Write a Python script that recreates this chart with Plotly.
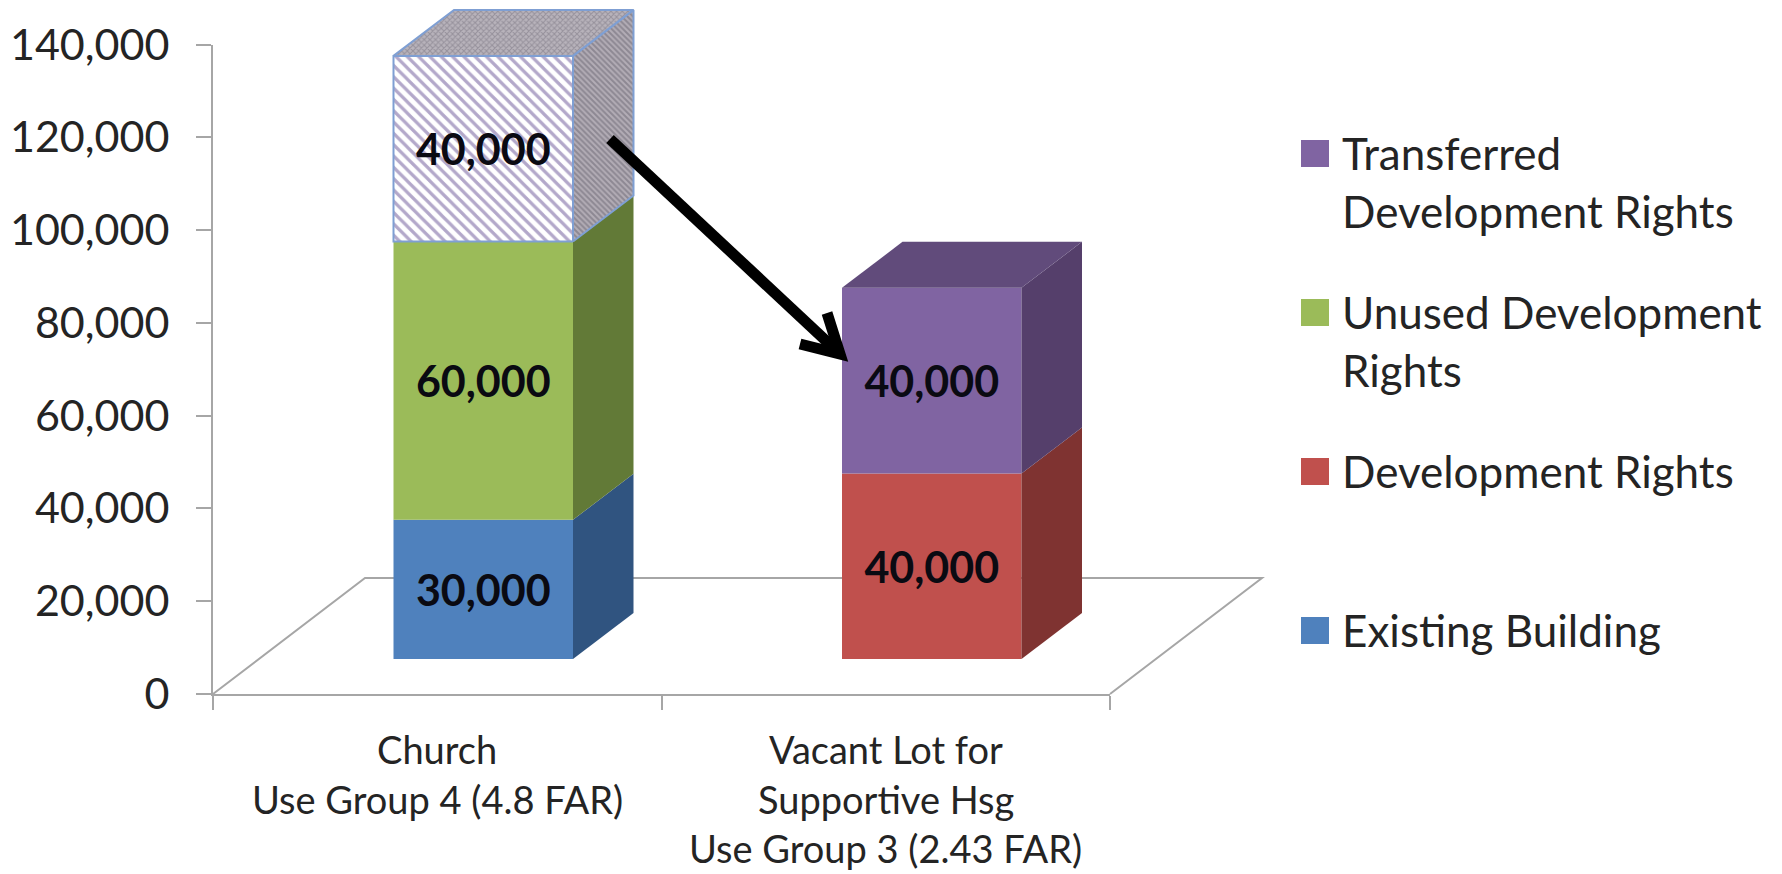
import plotly.graph_objects as go

# Chart values
categories = ["Church", "Vacant Lot"]
category_lines = [["Church", "Use Group 4 (4.8 FAR)"],
                  ["Vacant Lot for", "Supportive Hsg", "Use Group 3 (2.43 FAR)"]]
existing_building = [30000, None]
development_rights = [None, 40000]
unused_rights = [60000, None]
transferred_rights = [40000, 40000]
y_ticks = [0, 20000, 40000, 60000, 80000, 100000, 120000, 140000]

W, H = 1782, 874
X0_PX, X1_PX, Y0_PX, Y1_PX = 213.0, 1110.0, 694.0, 44.5
UNIT_X = (X1_PX - X0_PX) / 2
UNIT_Y = (Y0_PX - Y1_PX) / 140000


def px(x, y):
    """Canvas pixel to paper fraction."""
    return x / W, 1 - y / H


# Oblique projection of the 3-D box chart, in axis units
FLOOR_DX, FLOOR_DY = 152 / UNIT_X, 116 / UNIT_Y
SHIFT_DX, SHIFT_DY = 46 / UNIT_X, 35 / UNIT_Y
BOX_DX, BOX_DY = 60.5 / UNIT_X, 46 / UNIT_Y
BAR_W = 179.5 / UNIT_X

FONT = "Lato"
INK = "#242424"
GRID = "#a6a6a6"

fig = go.Figure()

# The visible axes need one trace to exist
fig.add_trace(go.Scatter(x=[None], y=[None], xaxis="x", yaxis="y",
                         hoverinfo="skip", showlegend=False))


def box(cat, base, value, front, side, top=None, hatched=False):
    x_left = cat + 0.5 + SHIFT_DX - BAR_W / 2
    x_right = x_left + BAR_W
    y0 = SHIFT_DY + base
    y1 = y0 + value
    edge = dict(color="#7f9fd3", width=2) if hatched else dict(width=0)

    side_kw = dict(fillcolor=side)
    if hatched:
        side_kw["fillpattern"] = dict(shape="\\", size=4, solidity=0.5,
                                      fgcolor="#8d8893", bgcolor="#b3adb6",
                                      fillmode="replace")
    fig.add_trace(go.Scatter(
        x=[x_right, x_right + BOX_DX, x_right + BOX_DX, x_right, x_right],
        y=[y0, y0 + BOX_DY, y1 + BOX_DY, y1, y0],
        xaxis="x2", yaxis="y2",
        mode="lines", fill="toself", line=edge, hoverinfo="skip",
        showlegend=False, **side_kw))

    if top:
        top_kw = dict(fillcolor=top)
        if hatched:
            top_kw["fillpattern"] = dict(shape="x", size=4, solidity=0.45,
                                         fgcolor="#96919c", bgcolor="#b8b3bb",
                                         fillmode="replace")
        fig.add_trace(go.Scatter(
            x=[x_left, x_right, x_right + BOX_DX, x_left + BOX_DX, x_left],
            y=[y1, y1, y1 + BOX_DY, y1 + BOX_DY, y1],
            xaxis="x2", yaxis="y2",
            mode="lines", fill="toself", line=edge, hoverinfo="skip",
            showlegend=False, **top_kw))

    marker = dict(color="#ffffff" if hatched else front, line=edge)
    if hatched:
        marker["pattern"] = dict(shape="\\", size=8, solidity=0.4,
                                 fgcolor="#b3a8ca", bgcolor="#ffffff",
                                 fillmode="replace")
    fig.add_trace(go.Bar(
        x=[cat + 0.5 + SHIFT_DX], y=[value], base=[y0], width=[BAR_W],
        xaxis="x2", yaxis="y2",
        marker=marker, text=[f"{value:,}"], textposition="inside",
        insidetextanchor="middle", textangle=0,
        textfont=dict(family=FONT, size=43, color="#0a0a12", weight="bold"),
        hoverinfo="skip", showlegend=False))


# Church stack, bottom to top
box(0, 0, existing_building[0], "#4f81bd", "#305480")
box(0, existing_building[0], unused_rights[0], "#9bbb59", "#627a37")
box(0, existing_building[0] + unused_rights[0], transferred_rights[0],
    "#ffffff", "#a9a4ae", top="#aaa5af", hatched=True)

# Vacant lot stack, bottom to top
box(1, 0, development_rights[1], "#c0504d", "#7f3331")
box(1, development_rights[1], transferred_rights[1],
    "#8064a2", "#553f6b", top="#614b7b")

annotations = []

# Floor of the chart sits behind the boxes
shapes = [dict(type="path", xref="x2", yref="y2", layer="below",
               path=f"M0,0 L{FLOOR_DX},{FLOOR_DY} L{2 + FLOOR_DX},{FLOOR_DY} L2,0",
               line=dict(color=GRID, width=2))]

# Category labels, one annotation per line for the wide leading
for i, lines in enumerate(category_lines):
    for j, line in enumerate(lines):
        xp = px(X0_PX + (i + 0.5) * UNIT_X, 0)[0]
        annotations.append(dict(
            text=line, xref="paper", yref="paper", x=xp, y=px(0, 749 + j * 49.5)[1],
            xanchor="center", yanchor="middle", showarrow=False,
            font=dict(family=FONT, size=38, color=INK)))

# Legend entries, top to bottom
legend_entries = [
    ("#8064a2", ["Transferred", "Development Rights"], 140),
    ("#9bbb59", ["Unused Development", "Rights"], 299),
    ("#c0504d", ["Development Rights"], 458),
    ("#4f81bd", ["Existing Building"], 617),
]
for color, lines, top_px in legend_entries:
    x0, y1 = px(1301, top_px)
    x1, y0 = px(1329, top_px + 27)
    shapes.append(dict(type="rect", xref="paper", yref="paper", x0=x0, x1=x1,
                       y0=y0, y1=y1, fillcolor=color, line=dict(width=0)))
    for j, line in enumerate(lines):
        xt, yt = px(1340, top_px + 13 + j * 58)
        annotations.append(dict(
            text=line, xref="paper", yref="paper", x=xt, y=yt,
            xanchor="left", yanchor="middle", showarrow=False,
            font=dict(family=FONT, size=44, color=INK)))


def path(points):
    return "M" + " L".join(f"{a:.5f},{b:.5f}" for a, b in (px(*p) for p in points))


# Arrow from the church's hatched block to the vacant lot
shapes.append(dict(type="path", xref="paper", yref="paper",
                   path=path([(610, 139), (838, 352)]),
                   line=dict(color="#000000", width=11)))
shapes.append(dict(type="path", xref="paper", yref="paper",
                   path=path([(827, 313), (840, 354), (800, 344)]),
                   line=dict(color="#000000", width=11)))

fig.update_layout(
    width=W, height=H, margin=dict(l=0, r=0, t=0, b=0),
    paper_bgcolor="#ffffff", plot_bgcolor="rgba(0,0,0,0)",
    barmode="overlay", showlegend=False,
    shapes=shapes, annotations=annotations,
    font=dict(family=FONT, color=INK),
    xaxis=dict(domain=[X0_PX / W, X1_PX / W], range=[0, 2], anchor="y",
               automargin=False,
               showgrid=False, zeroline=False, showticklabels=False,
               tickmode="array", tickvals=[0, 1, 2], ticks="outside",
               ticklen=14, tickwidth=2, tickcolor=GRID,
               showline=True, linecolor=GRID, linewidth=2, fixedrange=True),
    yaxis=dict(domain=[1 - Y0_PX / H, 1 - Y1_PX / H], range=[0, 140000], anchor="x",
               automargin=False,
               tickmode="array", tickvals=y_ticks,
               ticktext=[f"{v:,}" for v in y_ticks],
               tickfont=dict(family=FONT, size=43, color=INK),
               ticklabelstandoff=18, showgrid=False, zeroline=False,
               ticks="outside", ticklen=15, tickwidth=2, tickcolor=GRID,
               showline=True, linecolor=GRID, linewidth=2, fixedrange=True),
    # Full-canvas axes on the same scale, so boxes may rise past the axis frame
    xaxis2=dict(domain=[0, 1], anchor="y2", visible=False, automargin=False,
                range=[-X0_PX / UNIT_X, (W - X0_PX) / UNIT_X], fixedrange=True),
    yaxis2=dict(domain=[0, 1], anchor="x2", visible=False, automargin=False,
                range=[-(H - Y0_PX) / UNIT_Y, Y0_PX / UNIT_Y], fixedrange=True),
)

fig.write_html("out.html", config=dict(displayModeBar=False))
